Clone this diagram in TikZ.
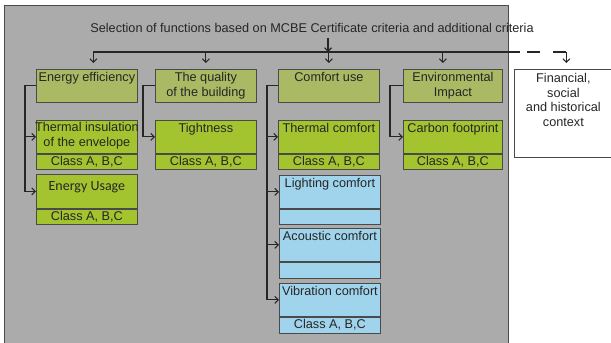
\documentclass[tikz,border=0pt]{standalone}
\usepackage{fontspec}
\setmainfont{Liberation Sans}
\newfontfamily\usagefont{Carlito}
\usetikzlibrary{positioning,
        arrows.meta}
\usepackage{xcolor}

\definecolor{panelgray}{HTML}{ABABAB}
\definecolor{headgreen}{HTML}{A9B964}
\definecolor{subgreen}{HTML}{A3C42F}
\definecolor{subblue}{HTML}{A0D4EC}
\definecolor{boxline}{HTML}{4A4A4A}
\definecolor{inkgray}{HTML}{262626}

\tikzset{
  txt/.style={anchor=north, inner sep=3.5pt, align=center, text=inkgray,
    font=\fontsize{12.7}{14.5}\selectfont},
  head/.style={draw=boxline, line width=0.8pt, fill=headgreen, anchor=north west,
    minimum width=101pt, minimum height=33pt, inner sep=0pt},
  part/.style={head, fill=subgreen},
  bluepart/.style={head, fill=subblue},
  cls/.style={draw=boxline, line width=0.8pt, fill=subgreen, minimum width=101pt,
    minimum height=15pt, inner sep=0pt, text=inkgray, font=\fontsize{12.7}{14.5}\selectfont},
  bluecls/.style={cls, fill=subblue},
  wire/.style={draw=inkgray, line width=1.1pt},
  link/.style={wire, -{Straight Barb[length=3.5pt,width=7pt]}}
}

\begin{document}
\begin{tikzpicture}[x=1pt,y=-1pt]
        \useasboundingbox (0,0) rectangle (611,343);
        \clip (0,0) rectangle (611,343);

        % grey panel
        \fill[panelgray] (4,5) rectangle (508,350);
        \draw[boxline, line width=1pt] (4,350) -- (4,5) -- (508,5) -- (508,350);

        \node [txt, anchor=center, inner sep=0pt] (sel) at (312,28) {Selection of functions based on MCBE Certificate criteria and additional criteria};
        \coordinate (fork) at (328,52);
        \coordinate (solidend) at (520,52);

        % main groups
        \node [head, label={[txt]north:Energy efficiency}] (ee) at (36,69) {};
        \node [head, label={[txt]north:The quality\\of the building}] (qb) at (155,69) {};
        \node [head, label={[txt]north:Comfort use}] (cu) at (278,69) {};
        \node [head, minimum width=99pt, label={[txt]north:Environmental\\Impact}] (ei) at (403,69) {};
        \node [head, fill=white, minimum width=98pt, minimum height=88pt,
               label={[txt, inner sep=4.5pt]north:Financial,\\social\\and historical\\context}] (fin) at (514,69) {};

        % criteria
        \node [part, label={[txt, inner sep=2.5pt]north:Thermal insulation\\of the envelope}] (ti) at (36,120) {};
        \node [cls, below=0pt of ti] (ticl) {Class A, B,C};
        \node [part, minimum height=34pt, label={[txt, inner sep=7pt, font=\usagefont\fontsize{14}{16}\selectfont]north:Energy Usage}] (eu) at (36,174) {};
        \node [cls, below=0pt of eu] (eucl) {Class A, B,C};

        \node [part, label={[txt]north:Tightness}] (tg) at (155,120) {};
        \node [cls, below=0pt of tg] (tgcl) {Class A, B,C};

        \node [part, label={[txt]north:Thermal comfort}] (tc) at (278,120) {};
        \node [cls, below=0pt of tc] (tccl) {Class A, B,C};
        \node [bluepart, label={[txt]north:Lighting comfort}] (lc) at (279,175) {};
        \node [bluecls, below=0pt of lc] (lccl) {};
        \node [bluepart, label={[txt]north:Acoustic comfort}] (ac) at (279,228) {};
        \node [bluecls, minimum height=16pt, below=0pt of ac] (accl) {};
        \node [bluepart, label={[txt]north:Vibration comfort}] (vc) at (279,283) {};
        \node [bluecls, minimum height=16pt, below=0pt of vc] (vccl) {Class A, B,C};

        \node [part, minimum width=99pt, label={[txt]north:Carbon footprint}] (cf) at (403,120) {};
        \node [cls, minimum width=99pt, below=0pt of cf] (cfcl) {Class A, B,C};

        % top distribution
        \draw [link, shorten <=5pt] (sel.south -| fork) -- (fork);
        \draw [wire] ([xshift=6.5pt]ee.north |- fork) -- (solidend);
        \draw [wire, dash pattern=on 13pt off 13pt, dash phase=19pt] (solidend) -- ([xshift=3pt]fin.north |- fork);
        \foreach \n/\dx in {ee/6.5, qb/0, cu/0, ei/-10, fin/3}
            \draw [link] ([xshift=\dx pt]\n.north |- fork) -- ([xshift=\dx pt, yshift=6pt]\n.north);

        % branches
        \draw [link] (ee.west) -- ++(-11,0) |- (ti.west);
        \draw [link] (ee.west) -- ++(-11,0) |- (eu.west);
        \draw [link] (qb.west) -- ++(-12,0) |- (tg.west);
        \draw [link] (cu.west) -- ++(-11,0) |- (tc.west);
        \draw [link] (cu.west) -- ++(-11,0) |- (lc.west);
        \draw [link] (cu.west) -- ++(-11,0) |- (ac.west);
        \draw [link] (cu.west) -- ++(-11,0) |- (vc.west);
        \draw [link] (ei.west) -- ++(-13,0) |- (cf.west);
    \end{tikzpicture}
\end{document}
